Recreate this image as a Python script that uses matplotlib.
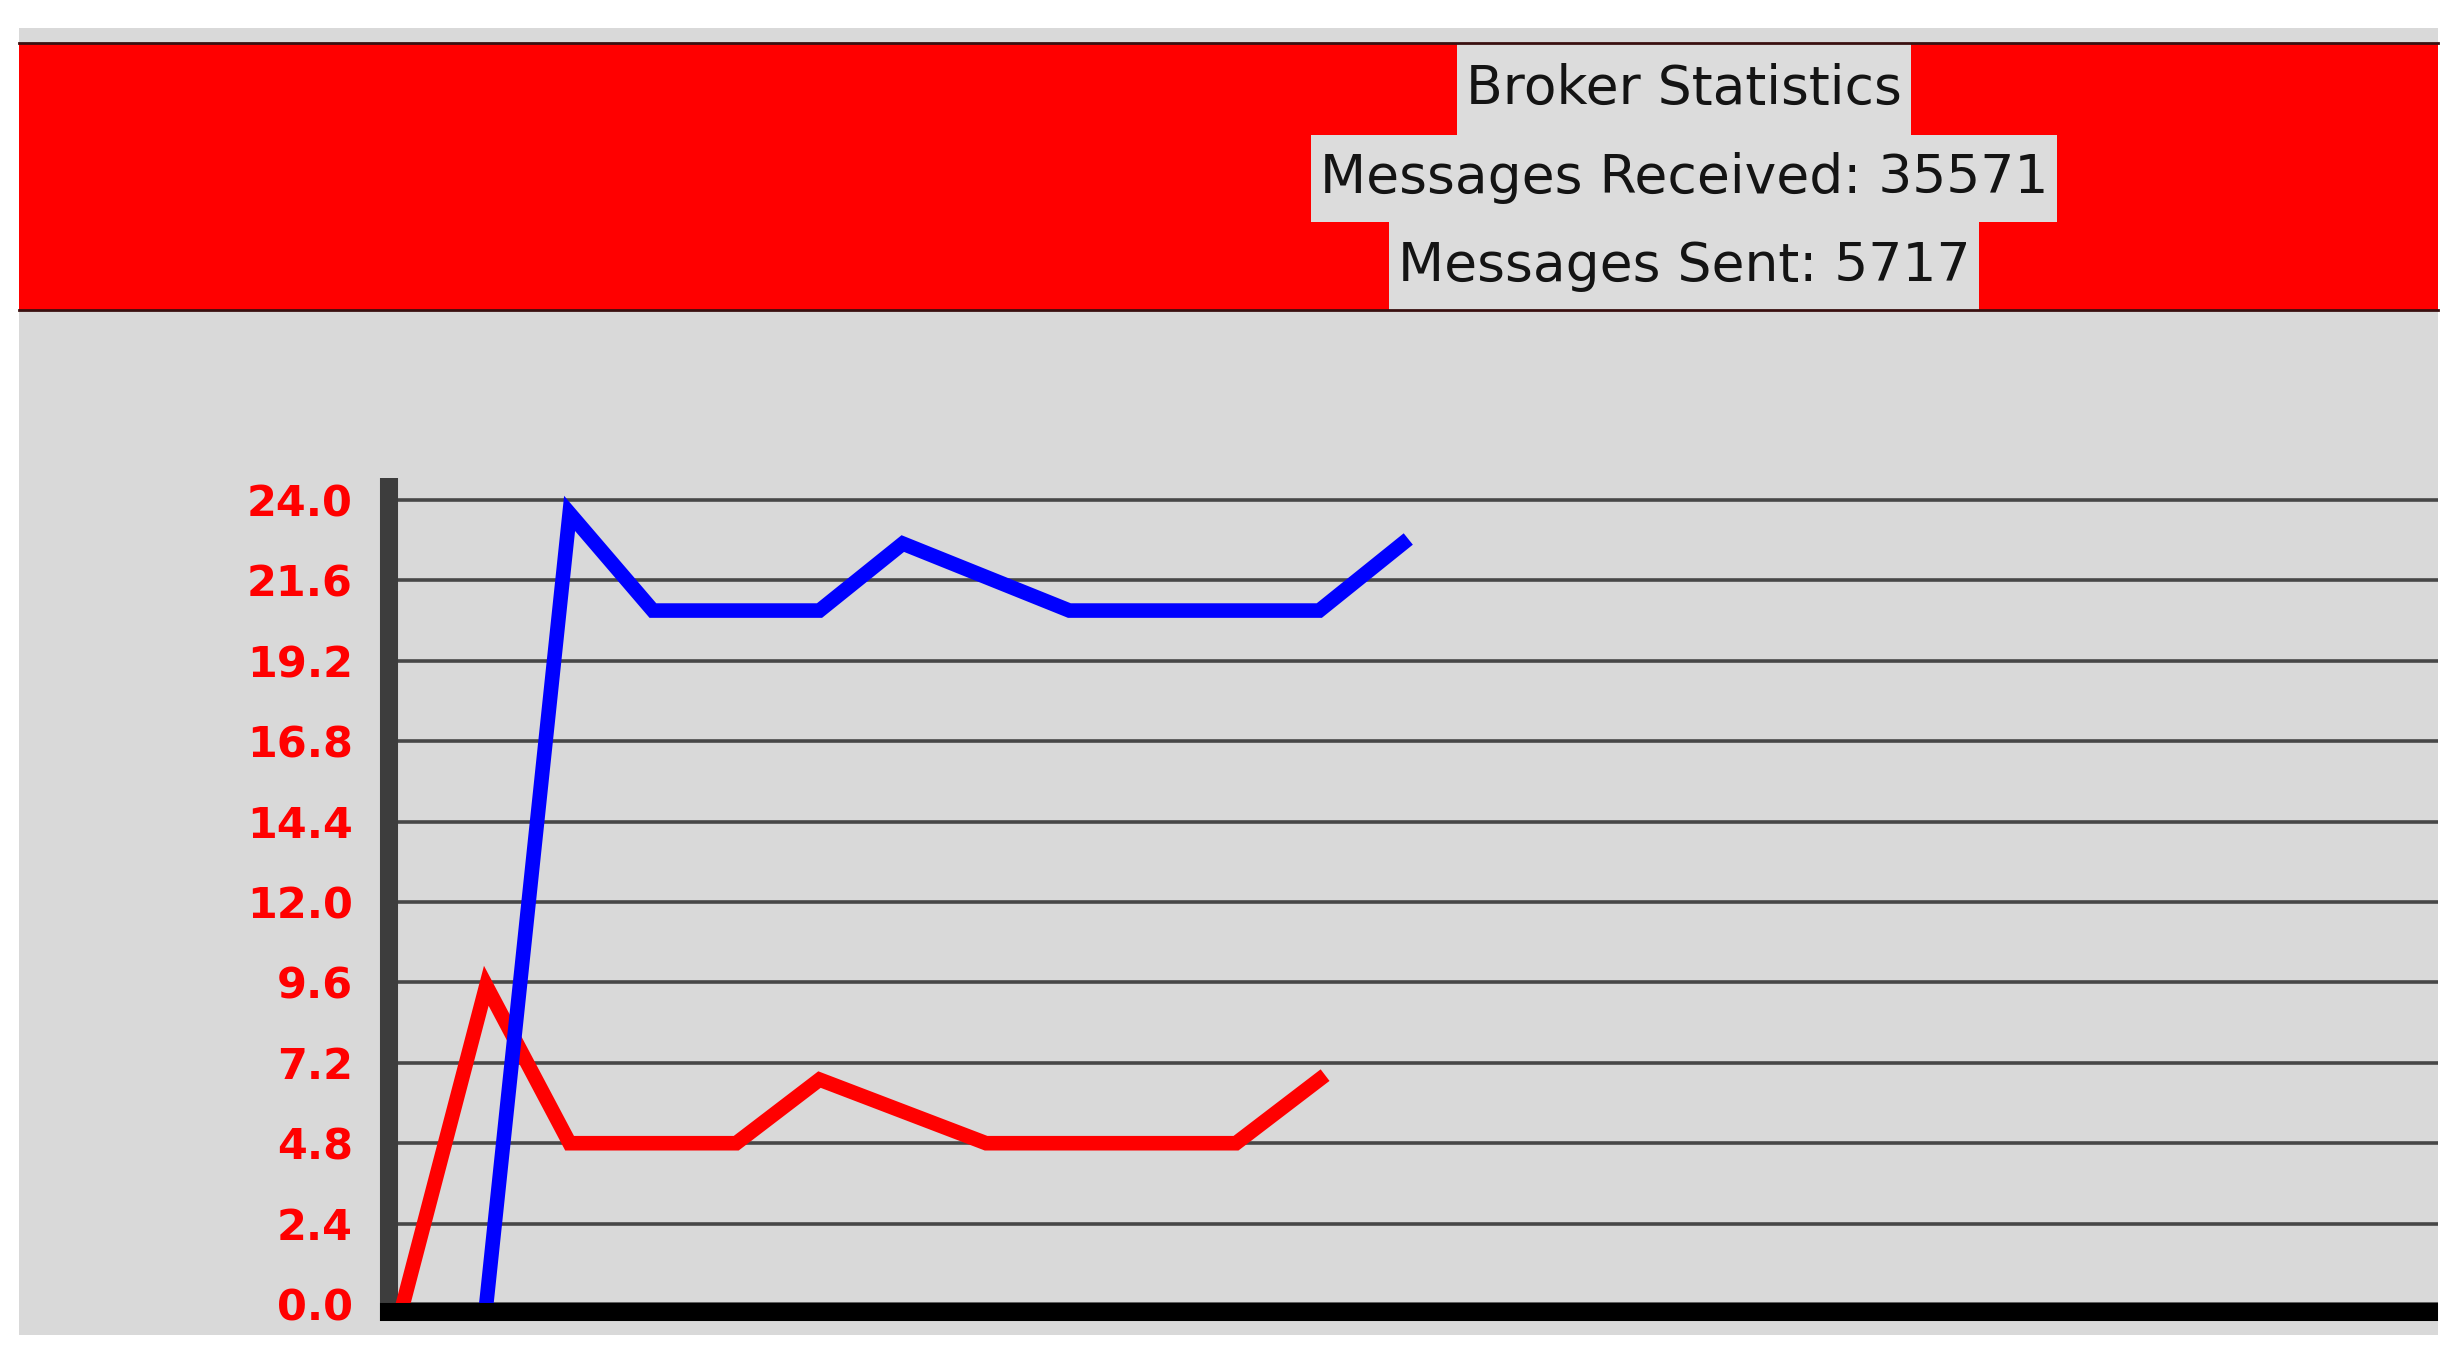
import matplotlib.pyplot as plt
from matplotlib.patches import Rectangle

# data (messages per interval)
sent_x = [0, 1, 2, 3, 4, 5, 6, 7, 8, 9, 10, 11]
sent = [0, 9.5, 4.8, 4.8, 4.8, 6.7, 5.75, 4.8, 4.8, 4.8, 4.8, 6.7]
received_x = [1, 2, 3, 4, 5, 6, 7, 8, 9, 10, 11, 12]
received = [0, 23.6, 20.7, 20.7, 20.7, 22.7, 21.7, 20.7, 20.7, 20.7, 20.7, 22.7]
y_ticks = [0.0, 2.4, 4.8, 7.2, 9.6, 12.0, 14.4, 16.8, 19.2, 21.6, 24.0]

header_lines = ['Broker Statistics', 'Messages Received: 35571', 'Messages Sent: 5717']

W, H = 2463, 1361
fig = plt.figure(figsize=(W / 100, H / 100), dpi=100, facecolor='white')

# gray window area
fig.patches.append(Rectangle((19 / W, 1 - 1335 / H), (2438 - 19) / W, (1335 - 28) / H,
                             transform=fig.transFigure, facecolor='#d9d9d9',
                             edgecolor='none', zorder=-10))

# red header banner, label rows stacked like tk widgets
ban_top, ban_bot = 43, 310
top = fig.add_axes([19 / W, 1 - ban_bot / H, (2438 - 19) / W, (ban_bot - ban_top) / H])
top.set_facecolor('#ff0000')
top.set_xlim(0, 1)
top.set_ylim(0, 1)
top.set_xticks([])
top.set_yticks([])
for side in ['left', 'right']:
    top.spines[side].set_visible(False)
for side in ['top', 'bottom']:
    top.spines[side].set_color('#3a1010')
    top.spines[side].set_linewidth(2)
    top.spines[side].set_zorder(5)

row_edges = [43, 135, 222, 310]
cx = (1684 - 19) / (2438 - 19)
texts = []
for i, line in enumerate(header_lines):
    cy = (row_edges[i] + row_edges[i + 1]) / 2
    t = top.text(cx, (ban_bot - cy) / (ban_bot - ban_top), line,
                 ha='center', va='center', fontsize=38.5, color='#141414',
                 family='DejaVu Sans', zorder=3)
    texts.append(t)

fig.canvas.draw()
renderer = fig.canvas.get_renderer()
to_ax = top.transAxes.inverted()
for i, t in enumerate(texts):
    bb = t.get_window_extent(renderer)
    x0 = to_ax.transform((bb.x0 - 9, 0))[0]
    x1 = to_ax.transform((bb.x1 + 9, 0))[0]
    y0 = (ban_bot - row_edges[i + 1]) / (ban_bot - ban_top)
    y1 = (ban_bot - row_edges[i]) / (ban_bot - ban_top)
    top.add_patch(Rectangle((x0, y0), x1 - x0, y1 - y0, facecolor='#dcdcdc',
                            edgecolor='none', zorder=2))

# chart
ax = fig.add_axes([389 / W, 1 - 1321 / H, (2438 - 389) / W, (1321 - 478) / H])
ax.set_facecolor('#d9d9d9')
ax.plot(sent_x, sent, color='#ff0000', linewidth=10.5, solid_joinstyle='miter', zorder=3)
ax.plot(received_x, received, color='#0000ff', linewidth=10.5, solid_joinstyle='miter', zorder=3)

ax.set_xlim(-0.168, 24.43)
ax.set_ylim(-0.507, 24.657)
ax.set_yticks(y_ticks)
ax.set_yticklabels([f'{v:.1f}' for v in y_ticks])
ax.set_xticks([])
ax.tick_params(axis='y', length=0, pad=26, labelsize=31, labelcolor='#ff0000')
for lbl in ax.get_yticklabels():
    lbl.set_fontweight('bold')
ax.yaxis.grid(True, color='#474747', linewidth=2.6)
ax.set_axisbelow(True)

ax.spines['top'].set_visible(False)
ax.spines['right'].set_visible(False)
ax.spines['left'].set_color('#3d3d3d')
ax.spines['left'].set_linewidth(13)
ax.spines['left'].set_capstyle('butt')
ax.spines['bottom'].set_color('black')
ax.spines['bottom'].set_linewidth(13)
ax.spines['bottom'].set_capstyle('projecting')
ax.spines['bottom'].set_bounds(-0.168, 24.32)
ax.spines['bottom'].set_position(('data', -0.23))
ax.spines['bottom'].set_zorder(4)

fig.savefig('out.png', dpi=100, facecolor='white')
